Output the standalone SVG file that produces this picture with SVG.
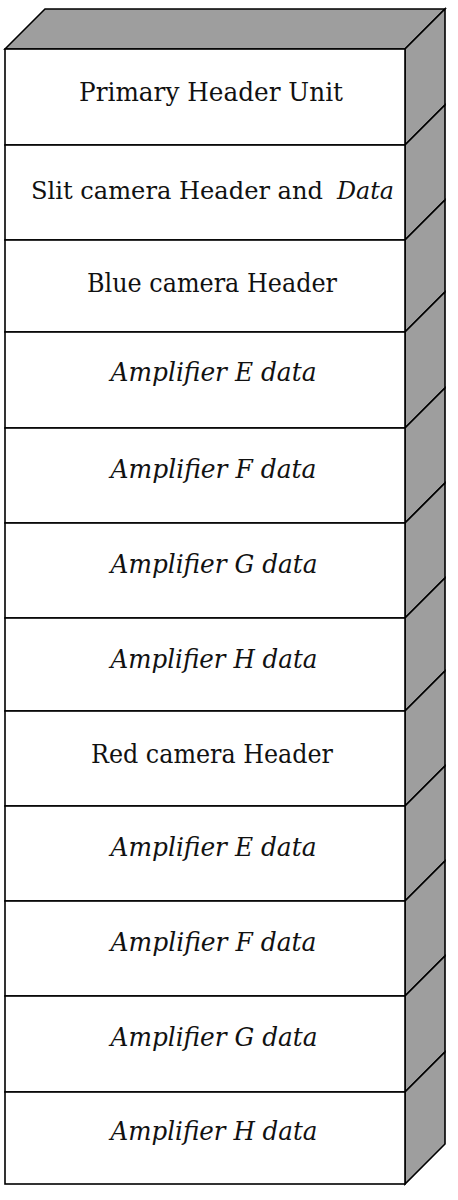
<svg xmlns="http://www.w3.org/2000/svg" width="458" height="1200" viewBox="0 0 458 1200">
<style>
.front{fill:#ffffff;stroke:#000;stroke-width:1.6}
.side{fill:#9e9e9e;stroke:#000;stroke-width:1.6;stroke-linejoin:miter}
.t{font-family:'DejaVu Serif','Liberation Serif',serif;font-size:26px;fill:#111}
.i{font-style:italic}
.s{font-size:24px}
</style>
<rect width="458" height="1200" fill="#ffffff"/>
<g id="top-face">
<polygon class="side" points="5,49 45,9 445,9 405,49"/>
</g>
<g id="row-1">
<polygon class="side" points="405,49 445,9 445,105 405,145"/>
<rect class="front" x="5" y="49" width="400" height="96"/>
<text class="t" x="79" y="101" textLength="264" lengthAdjust="spacingAndGlyphs">Primary Header Unit</text>
</g>
<g id="row-2">
<polygon class="side" points="405,145 445,105 445,200 405,240"/>
<rect class="front" x="5" y="145" width="400" height="95"/>
<text class="t s" x="31" y="199" textLength="292" lengthAdjust="spacingAndGlyphs">Slit camera Header and</text>
<text class="t i s" x="337" y="199" textLength="57" lengthAdjust="spacingAndGlyphs">Data</text>
</g>
<g id="row-3">
<polygon class="side" points="405,240 445,200 445,292 405,332"/>
<rect class="front" x="5" y="240" width="400" height="92"/>
<text class="t" x="87" y="292" textLength="250" lengthAdjust="spacingAndGlyphs">Blue camera Header</text>
</g>
<g id="row-4">
<polygon class="side" points="405,332 445,292 445,388 405,428"/>
<rect class="front" x="5" y="332" width="400" height="96"/>
<text class="t i" x="110.5" y="381" textLength="206" lengthAdjust="spacingAndGlyphs">Amplifier E data</text>
</g>
<g id="row-5">
<polygon class="side" points="405,428 445,388 445,483 405,523"/>
<rect class="front" x="5" y="428" width="400" height="95"/>
<text class="t i" x="110.5" y="478" textLength="206" lengthAdjust="spacingAndGlyphs">Amplifier F data</text>
</g>
<g id="row-6">
<polygon class="side" points="405,523 445,483 445,578 405,618"/>
<rect class="front" x="5" y="523" width="400" height="95"/>
<text class="t i" x="110.5" y="573" textLength="207" lengthAdjust="spacingAndGlyphs">Amplifier G data</text>
</g>
<g id="row-7">
<polygon class="side" points="405,618 445,578 445,671 405,711"/>
<rect class="front" x="5" y="618" width="400" height="93"/>
<text class="t i" x="110.5" y="668" textLength="207" lengthAdjust="spacingAndGlyphs">Amplifier H data</text>
</g>
<g id="row-8">
<polygon class="side" points="405,711 445,671 445,766 405,806"/>
<rect class="front" x="5" y="711" width="400" height="95"/>
<text class="t" x="91" y="763" textLength="242" lengthAdjust="spacingAndGlyphs">Red camera Header</text>
</g>
<g id="row-9">
<polygon class="side" points="405,806 445,766 445,861 405,901"/>
<rect class="front" x="5" y="806" width="400" height="95"/>
<text class="t i" x="110.5" y="856" textLength="206" lengthAdjust="spacingAndGlyphs">Amplifier E data</text>
</g>
<g id="row-10">
<polygon class="side" points="405,901 445,861 445,956 405,996"/>
<rect class="front" x="5" y="901" width="400" height="95"/>
<text class="t i" x="110.5" y="951" textLength="206" lengthAdjust="spacingAndGlyphs">Amplifier F data</text>
</g>
<g id="row-11">
<polygon class="side" points="405,996 445,956 445,1052 405,1092"/>
<rect class="front" x="5" y="996" width="400" height="96"/>
<text class="t i" x="110.5" y="1046" textLength="207" lengthAdjust="spacingAndGlyphs">Amplifier G data</text>
</g>
<g id="row-12">
<polygon class="side" points="405,1092 445,1052 445,1144 405,1184"/>
<rect class="front" x="5" y="1092" width="400" height="92"/>
<text class="t i" x="110.5" y="1140" textLength="207" lengthAdjust="spacingAndGlyphs">Amplifier H data</text>
</g>
</svg>
